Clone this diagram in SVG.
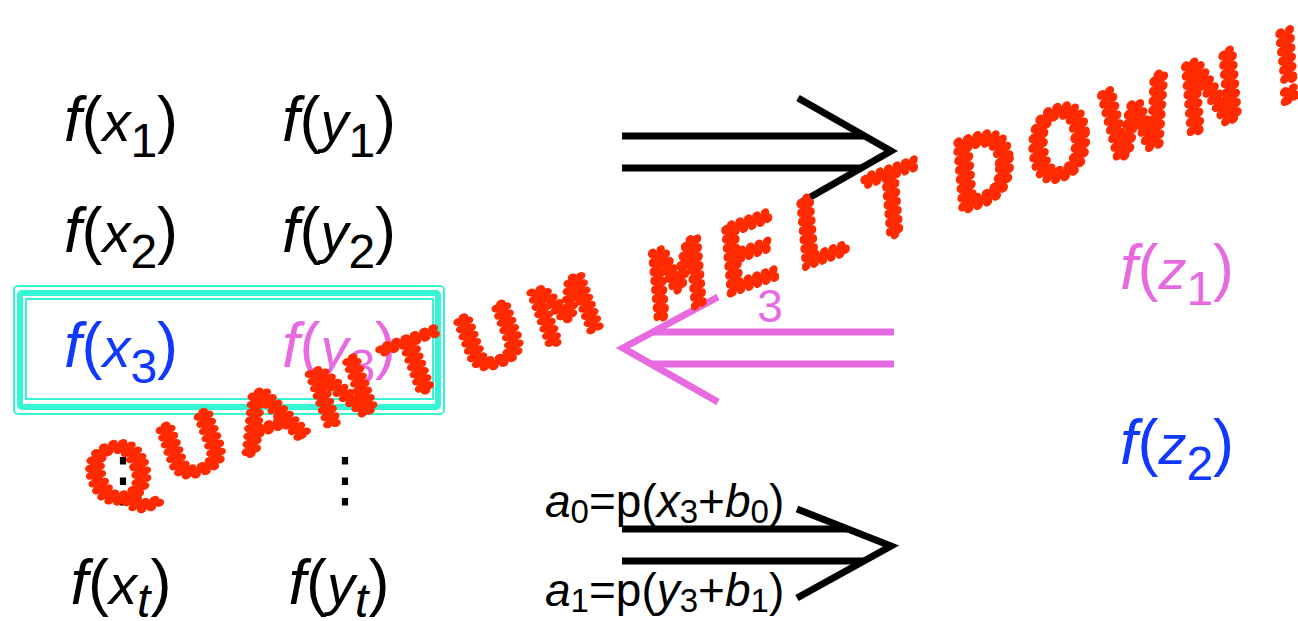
<svg xmlns="http://www.w3.org/2000/svg" width="1298" height="621" viewBox="0 0 1298 621">
<style>
.m{font-family:"Liberation Sans",Arial,sans-serif;font-size:63px;fill:#000}
.e{font-family:"Liberation Sans",Arial,sans-serif;font-size:46px;fill:#000}
.i{font-style:italic}
.pk{fill:#E86AE0}
.bl{fill:#1038FF}
.blk{stroke:#000;stroke-width:7;fill:none}
.pnk{stroke:#E86AE0;stroke-width:7;fill:none}
.box{fill:none;stroke:#36F5D4}
.red{font-family:"Liberation Mono","DejaVu Sans Mono",monospace;font-size:100px;fill:#FF2A00;stroke:#FF2A00;stroke-width:9;stroke-dasharray:0 9;stroke-linecap:round;stroke-linejoin:round}
.dots{font-family:"DejaVu Sans",sans-serif;font-size:60px;fill:#000}
</style>
<g id="box">
<rect class="box" x="14" y="286" width="430" height="128" rx="4" stroke-width="2"/>
<rect class="box" x="20" y="293" width="418" height="114" rx="2" stroke-width="6"/>
<rect class="box" x="26" y="299" width="407" height="100" stroke-width="2"/>
</g>
<g id="fx1"><text class="m" x="121" y="141" text-anchor="middle"><tspan class="i">f</tspan>(<tspan class="i" font-size="56">x</tspan><tspan font-size="48" dy="16">1</tspan><tspan dy="-16">)</tspan></text></g>
<g id="fy1"><text class="m" x="339" y="141" text-anchor="middle"><tspan class="i">f</tspan>(<tspan class="i" font-size="56">y</tspan><tspan font-size="48" dy="16">1</tspan><tspan dy="-16">)</tspan></text></g>
<g id="fx2"><text class="m" x="121" y="252" text-anchor="middle"><tspan class="i">f</tspan>(<tspan class="i" font-size="56">x</tspan><tspan font-size="48" dy="16">2</tspan><tspan dy="-16">)</tspan></text></g>
<g id="fy2"><text class="m" x="339" y="252" text-anchor="middle"><tspan class="i">f</tspan>(<tspan class="i" font-size="56">y</tspan><tspan font-size="48" dy="16">2</tspan><tspan dy="-16">)</tspan></text></g>
<g id="fx3"><text class="m bl" x="121" y="367" text-anchor="middle"><tspan class="i">f</tspan>(<tspan class="i" font-size="56">x</tspan><tspan font-size="48" dy="16">3</tspan><tspan dy="-16">)</tspan></text></g>
<g id="fy3"><text class="m pk" x="339" y="367" text-anchor="middle"><tspan class="i">f</tspan>(<tspan class="i" font-size="56">y</tspan><tspan font-size="48" dy="16">3</tspan><tspan dy="-16">)</tspan></text></g>
<g id="vdots1"><text class="dots" x="123" y="500" text-anchor="middle">⋮</text></g>
<g id="vdots2"><text class="dots" x="345" y="500" text-anchor="middle">⋮</text></g>
<g id="fxt"><text class="m" x="121" y="604" text-anchor="middle"><tspan class="i">f</tspan>(<tspan class="i" font-size="56">x</tspan><tspan class="i" font-size="48" dy="13">t</tspan><tspan dy="-13">)</tspan></text></g>
<g id="fyt"><text class="m" x="339" y="604" text-anchor="middle"><tspan class="i">f</tspan>(<tspan class="i" font-size="56">y</tspan><tspan class="i" font-size="48" dy="13">t</tspan><tspan dy="-13">)</tspan></text></g>
<g id="fz1"><text class="m pk" x="1177" y="289" text-anchor="middle"><tspan class="i">f</tspan>(<tspan class="i" font-size="56">z</tspan><tspan font-size="48" dy="16">1</tspan><tspan dy="-16">)</tspan></text></g>
<g id="fz2"><text class="m bl" x="1177" y="464" text-anchor="middle"><tspan class="i">f</tspan>(<tspan class="i" font-size="56">z</tspan><tspan font-size="48" dy="16">2</tspan><tspan dy="-16">)</tspan></text></g>
<g id="connectors">
<g id="arrow-top">
<line class="blk" x1="622" y1="136" x2="865" y2="136"/>
<line class="blk" x1="622" y1="168" x2="861" y2="168"/>
<polyline class="blk" points="798,98 891,151 800,203"/>
</g>
<g id="arrow-pink">
<line class="pnk" x1="652" y1="332" x2="894" y2="332"/>
<line class="pnk" x1="652" y1="364" x2="894" y2="364"/>
<polyline class="pnk" points="718,297 623,348 718,402"/>
<text class="e pk" x="770" y="322" text-anchor="middle" font-size="50">3</text>
</g>
<g id="arrow-bottom">
<line class="blk" x1="622" y1="529" x2="848" y2="529"/>
<line class="blk" x1="622" y1="561" x2="864" y2="561"/>
<polyline class="blk" points="797,509 891,546 797,598"/>
<text class="e" x="545" y="517"><tspan class="i">a</tspan><tspan font-size="33" dy="6">0</tspan><tspan dy="-6">=p(</tspan><tspan class="i">x</tspan><tspan font-size="33" dy="6">3</tspan><tspan dy="-6">+</tspan><tspan class="i">b</tspan><tspan font-size="33" dy="6">0</tspan><tspan dy="-6">)</tspan></text>
<text class="e" x="545" y="606"><tspan class="i">a</tspan><tspan font-size="33" dy="6">1</tspan><tspan dy="-6">=p(</tspan><tspan class="i">y</tspan><tspan font-size="33" dy="6">3</tspan><tspan dy="-6">+</tspan><tspan class="i">b</tspan><tspan font-size="33" dy="6">1</tspan><tspan dy="-6">)</tspan></text>
</g>
</g>
<g id="stamp">
<text class="red" transform="matrix(1.034,-0.376,0.291,0.80,97,510)" letter-spacing="12">QUANTUM</text>
<text class="red" transform="matrix(0.942,-0.335,0.087,1.0,652,321)" letter-spacing="16">MELT</text>
<text class="red" transform="matrix(1.042,-0.353,0.09,1.03,955,213)" letter-spacing="13">DOWN!</text>
</g>
</svg>
